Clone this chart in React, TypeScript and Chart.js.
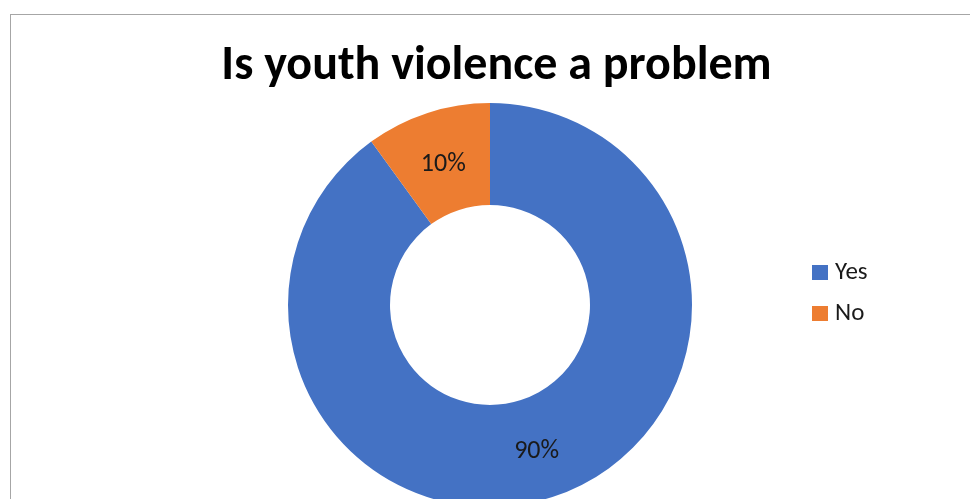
import React, { useEffect, useRef } from "react";
import { Chart, registerables } from "chart.js";

Chart.register(...registerables);

const title = "Is youth violence a problem";
const categories = ["Yes", "No"];
const values = [90, 10];
const colors = ["#4472C4", "#ED7D31"];

const FONT = "Carlito, Lato, 'Open Sans', sans-serif";

const labelPlugin = {
  id: "sliceLabels",
  afterDatasetsDraw(chart: any) {
    const ctx = chart.ctx;
    const meta = chart.getDatasetMeta(0);
    const total = values.reduce((a, b) => a + b, 0);
    ctx.save();
    ctx.font = `26px ${FONT}`;
    ctx.fillStyle = "#1a1a1a";
    ctx.textAlign = "center";
    ctx.textBaseline = "alphabetic";
    meta.data.forEach((arc: any, i: number) => {
      const p = arc.getCenterPoint();
      const pct = Math.round((values[i] / total) * 100) + "%";
      ctx.fillText(pct, p.x, p.y + 9.5);
    });
    ctx.restore();
  },
};

export default function App() {
  const ref = useRef<HTMLCanvasElement | null>(null);
  useEffect(() => {
    if (!ref.current) return;
    const chart = new Chart(ref.current, {
      type: "doughnut",
      data: {
        labels: categories,
        datasets: [
          {
            data: values,
            backgroundColor: colors,
            borderWidth: 0,
          },
        ],
      },
      options: {
        responsive: false,
        animation: false,
        cutout: "49.5%",
        layout: { padding: { left: 288, right: 278, top: 103, bottom: 13 } },
        plugins: {
          legend: { display: false },
          tooltip: { enabled: false },
          title: { display: false },
        },
      },
      plugins: [labelPlugin],
    });
    return () => chart.destroy();
  }, []);

  return (
    <div
      style={{
        position: "fixed",
        left: 0,
        top: 0,
        width: 970,
        height: 499,
        overflow: "hidden",
        background: "#fff",
      }}
    >
      <div
        style={{
          position: "absolute",
          left: 10,
          top: 14,
          width: 1100,
          height: 700,
          border: "1px solid #a6a6a6",
          boxSizing: "border-box",
        }}
      />
      <canvas
        ref={ref}
        width={970}
        height={520}
        style={{ position: "absolute", left: 0, top: 0, width: 970, height: 520 }}
      />
      <div
        style={{
          position: "absolute",
          left: 0,
          width: 993,
          top: 35,
          textAlign: "center",
          fontFamily: FONT,
          fontWeight: 700,
          fontSize: 48,
          lineHeight: "56px",
          color: "#000",
          whiteSpace: "nowrap",
        }}
      >
        {title}
      </div>
      {categories.map((c, i) => (
        <React.Fragment key={c}>
          <div
            style={{
              position: "absolute",
              left: 812,
              top: 265 + i * 41,
              width: 16,
              height: 15,
              background: colors[i],
            }}
          />
          <div
            style={{
              position: "absolute",
              left: 835,
              top: 255.5 + i * 41,
              fontFamily: FONT,
              fontSize: 25,
              lineHeight: "30px",
              color: "#1a1a1a",
              whiteSpace: "nowrap",
            }}
          >
            {c}
          </div>
        </React.Fragment>
      ))}
    </div>
  );
}
